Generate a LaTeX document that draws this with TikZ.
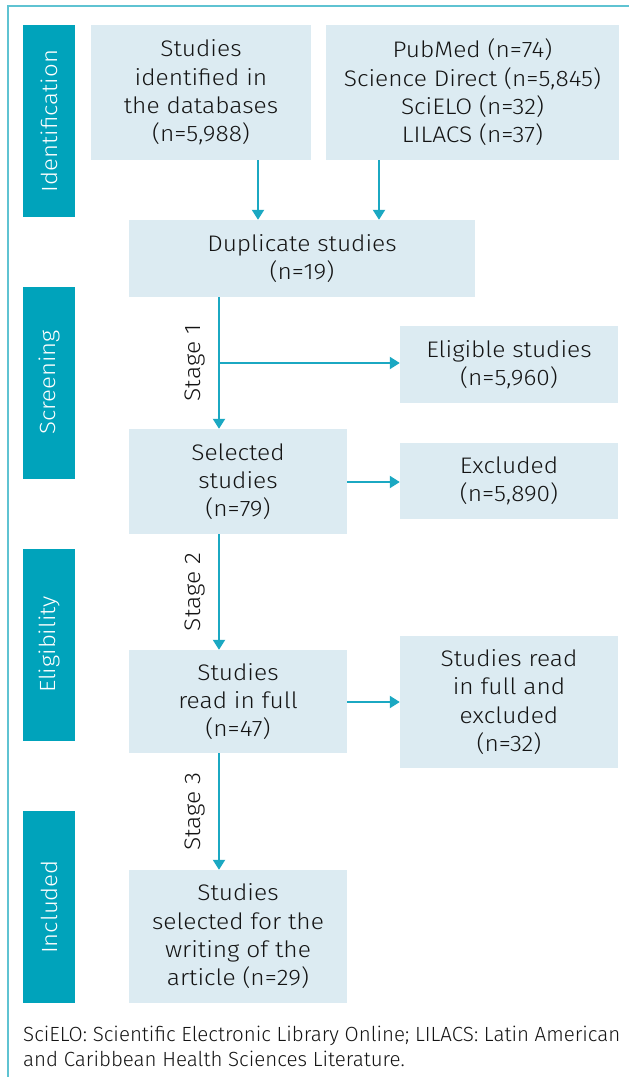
\documentclass[tikz,border=0pt]{standalone}
\usepackage{fontspec}
\setmainfont{Fira Sans Light}[FakeStretch=1.09]
\newfontfamily\footfont{Fira Sans Light}
\usetikzlibrary{arrows.meta}
\definecolor{barc}{RGB}{0,163,187}
\definecolor{boxc}{RGB}{220,235,242}
\definecolor{arrc}{RGB}{27,168,194}
\definecolor{framec}{RGB}{95,195,210}
\definecolor{textc}{RGB}{20,20,20}
\tikzset{
  box/.style={fill=boxc, draw=none, inner sep=0pt, align=center, text=textc,
    font=\fontsize{22.5}{28.3}\selectfont},
  phase/.style={fill=barc, draw=none, inner sep=0pt, minimum width=52pt, minimum height=192pt},
  phasetext/.style={rotate=90, text=white, inner sep=0pt, font=\fontsize{22}{24}\selectfont},
  stagetext/.style={rotate=90, anchor=south, inner sep=0pt, text=textc, font=\fontsize{22.5}{24}\selectfont},
  arr/.style={draw=arrc, line width=2pt, -{Triangle[length=10pt,width=12pt]}},
  foot/.style={anchor=base west, inner sep=0pt, text=textc, font=\footfont\fontsize{20.5}{24}\selectfont},
}
\begin{document}
\begin{tikzpicture}[x=1pt,y=-1pt]
\useasboundingbox (0,0) rectangle (629,1077);
\draw[framec, line width=2pt] (629,6) -- (8,6) -- (8,1077);
% phase bars
\node[phase] (pid) at (49,121) {};
\node[phasetext] (tid) at (pid.center) {Identification};
\node[phase] (psc) at (49,382.5) {};
\node[phasetext] (tsc) at (psc.center) {Screening};
\node[phase] (pel) at (49,644.5) {};
\node[phasetext] (tel) at (pel.center) {Eligibility};
\node[phase] (pin) at (49,907) {};
\node[phasetext] (tin) at (pin.center) {Included};
% boxes
\node[box, minimum width=220pt, minimum height=135pt] (b1) at (201,92.5) {Studies\\identified in\\the databases\\(n=5,988)};
\node[box, minimum width=293pt, minimum height=135pt] (b2) at (472.5,92.5) {PubMed (n=74)\\Science Direct (n=5,845)\\SciELO (n=32)\\LILACS (n=37)};
\node[box, minimum width=346pt, minimum height=77pt] (dup) at (302,258.5) {Duplicate studies\\(n=19)};
\node[box, minimum width=218pt, minimum height=77pt] (elig) at (509,364.5) {Eligible studies\\(n=5,960)};
\node[box, minimum width=218pt, minimum height=105pt] (sel) at (238,481.5) {Selected\\studies\\(n=79)};
\node[box, minimum width=218pt, minimum height=76pt] (excl) at (509,481) {Excluded\\(n=5,890)};
\node[box, minimum width=218pt, minimum height=103pt] (full) at (238,701.5) {Studies\\read in full\\(n=47)};
\node[box, minimum width=218pt, minimum height=132pt] (excl2) at (509,702) {Studies read\\in full and\\excluded\\(n=32)};
\node[box, minimum width=218pt, minimum height=133pt] (fin) at (238,936.5) {Studies\\selected for the\\writing of the\\article (n=29)};
% connectors
\coordinate (c1) at (258,0);
\coordinate (c2) at (379,0);
\coordinate (cs) at (219,0);
\coordinate (h1) at (0,482);
\coordinate (h2) at (0,702);
\draw[arr] (b1.south -| c1) -- (dup.north -| c1);
\draw[arr] (b2.south -| c2) -- (dup.north -| c2);
\draw[arr] (dup.south -| cs) -- (sel.north -| cs);
\coordinate (br) at (219,363);
\draw[arr] (br) -- (br -| elig.west);
\draw[arr] (sel.east |- h1) -- (excl.west |- h1);
\draw[arr] (sel.south -| cs) -- (full.north -| cs);
\draw[arr] (full.east |- h2) -- (excl2.west |- h2);
\draw[arr] (full.south -| cs) -- (fin.north -| cs);
% stage labels
\node[stagetext] (s1) at (205,363) {Stage 1};
\node[stagetext] (s2) at (205,592) {Stage 2};
\node[stagetext] (s3) at (205,811.5) {Stage 3};
% footnote
\node[foot] (f1) at (23,1041.7) {SciELO: Scientific Electronic Library Online; LILACS: Latin American};
\node[foot] (f2) at (23,1066) {and Caribbean Health Sciences Literature.};
\end{tikzpicture}
\end{document}
